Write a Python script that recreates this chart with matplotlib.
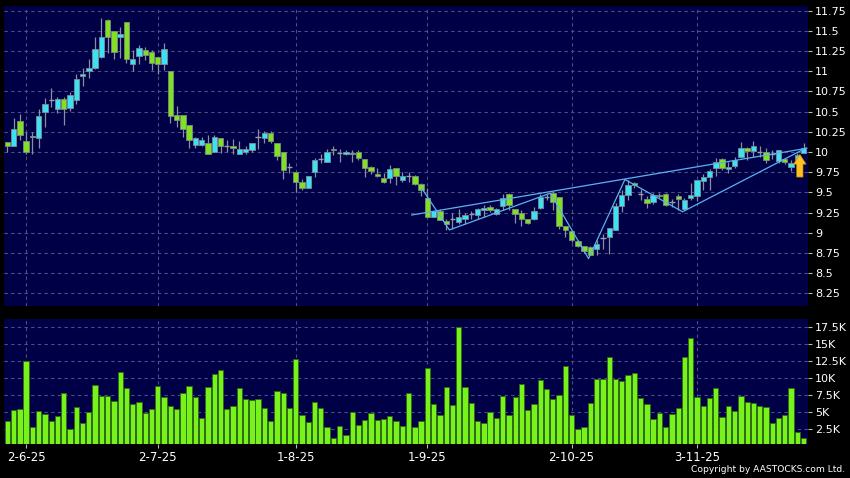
import matplotlib
matplotlib.use('Agg')
import matplotlib.pyplot as plt
import numpy as np

# daily OHLC (trading-day index 0..127)
opens = [10.12, 10.08, 10.38, 10.14, 10.19, 10.17, 10.50, 10.64, 10.53, 10.66,
         10.54, 10.64, 10.94, 11.00, 11.04, 11.18, 11.64, 11.50, 11.42, 11.61,
         11.09, 11.19, 11.26, 11.24, 11.18, 11.09, 11.00, 10.46, 10.46, 10.34,
         10.09, 10.09, 10.11, 10.00, 10.17, 10.07, 10.08, 9.98, 9.995, 10.02,
         10.18, 10.17, 10.24, 10.11, 10.00, 9.82, 9.75, 9.63, 9.56, 9.75,
         9.91, 9.88, 10.04, 9.99, 9.975, 9.97, 10.00, 9.91, 9.81, 9.73,
         9.68, 9.68, 9.80, 9.65, 9.70, 9.70, 9.60, 9.435, 9.20, 9.27,
         9.145, 9.17, 9.13, 9.175, 9.23, 9.22, 9.28, 9.32, 9.23, 9.33,
         9.48, 9.30, 9.24, 9.175, 9.175, 9.31, 9.445, 9.49, 9.44, 9.08,
         9.02, 8.90, 8.835, 8.82, 8.80, 8.935, 8.95, 9.035, 9.33, 9.47,
         9.62, 9.48, 9.42, 9.385, 9.47, 9.48, 9.38, 9.45, 9.29, 9.43,
         9.45, 9.645, 9.685, 9.80, 9.91, 9.79, 9.83, 9.935, 10.055, 10.015,
         10.005, 10.005, 9.98, 9.89, 9.91, 9.81, 9.90, 9.99]
highs = [10.13, 10.42, 10.47, 10.25, 10.25, 10.53, 10.665, 10.79, 10.68, 10.68,
         10.74, 10.97, 11.04, 11.15, 11.42, 11.655, 11.645, 11.50, 11.55, 11.61,
         11.26, 11.32, 11.30, 11.26, 11.18, 11.35, 11.00, 10.57, 10.46, 10.34,
         10.19, 10.19, 10.21, 10.21, 10.17, 10.15, 10.16, 10.14, 10.08, 10.11,
         10.28, 10.26, 10.26, 10.11, 10.00, 9.86, 9.75, 9.66, 9.70, 9.92,
         9.98, 10.04, 10.07, 10.04, 10.02, 10.03, 10.03, 9.91, 9.83, 9.80,
         9.74, 9.84, 9.80, 9.75, 9.75, 9.71, 9.61, 9.55, 9.27, 9.29,
         9.17, 9.24, 9.29, 9.24, 9.27, 9.31, 9.34, 9.34, 9.31, 9.48,
         9.49, 9.30, 9.28, 9.175, 9.32, 9.48, 9.485, 9.52, 9.44, 9.08,
         9.02, 8.915, 8.835, 8.83, 8.91, 8.99, 9.06, 9.365, 9.53, 9.65,
         9.63, 9.54, 9.45, 9.49, 9.49, 9.49, 9.42, 9.48, 9.43, 9.61,
         9.655, 9.73, 9.79, 9.92, 9.92, 9.88, 9.935, 10.12, 10.06, 10.14,
         10.07, 10.055, 10.02, 10.03, 9.92, 9.90, 9.985, 10.11]
lows = [10.00, 10.07, 10.15, 9.97, 9.97, 10.05, 10.31, 10.56, 10.48, 10.34,
        10.51, 10.60, 10.82, 10.92, 11.03, 11.17, 11.22, 11.15, 11.16, 11.10,
        11.00, 11.09, 11.14, 11.02, 10.97, 11.02, 10.36, 10.31, 10.18, 10.05,
        10.05, 10.07, 9.97, 10.00, 9.99, 10.00, 9.97, 9.98, 9.98, 10.00,
        10.04, 10.11, 10.11, 9.90, 9.67, 9.74, 9.51, 9.53, 9.55, 9.69,
        9.86, 9.88, 9.96, 9.88, 9.96, 9.88, 9.90, 9.69, 9.73, 9.69,
        9.62, 9.62, 9.59, 9.63, 9.63, 9.59, 9.46, 9.19, 9.19, 9.155,
        9.03, 9.05, 9.11, 9.11, 9.175, 9.165, 9.20, 9.26, 9.22, 9.28,
        9.28, 9.12, 9.08, 9.105, 9.16, 9.30, 9.40, 9.28, 9.05, 8.95,
        8.89, 8.825, 8.75, 8.72, 8.72, 8.80, 8.74, 9.035, 9.26, 9.40,
        9.56, 9.41, 9.31, 9.36, 9.43, 9.33, 9.32, 9.28, 9.28, 9.41,
        9.39, 9.53, 9.53, 9.70, 9.78, 9.745, 9.80, 9.92, 9.90, 9.94,
        9.94, 9.86, 9.91, 9.865, 9.855, 9.76, 9.88, 9.99]
closes = [10.08, 10.28, 10.21, 9.995, 10.20, 10.44, 10.60, 10.64, 10.66, 10.53,
          10.70, 10.90, 10.96, 11.04, 11.28, 11.42, 11.42, 11.24, 11.46, 11.15,
          11.15, 11.29, 11.20, 11.10, 11.09, 11.28, 10.44, 10.40, 10.28, 10.15,
          10.17, 10.15, 9.98, 10.18, 10.07, 10.07, 10.05, 10.04, 10.04, 10.11,
          10.18, 10.24, 10.14, 9.95, 9.78, 9.82, 9.63, 9.56, 9.70, 9.90,
          9.91, 9.995, 10.02, 9.99, 10.00, 9.99, 9.93, 9.80, 9.76, 9.70,
          9.63, 9.79, 9.70, 9.70, 9.70, 9.60, 9.53, 9.20, 9.27, 9.16,
          9.11, 9.17, 9.20, 9.22, 9.23, 9.30, 9.31, 9.28, 9.30, 9.435,
          9.34, 9.23, 9.175, 9.12, 9.27, 9.44, 9.445, 9.38, 9.08, 9.03,
          8.91, 8.835, 8.78, 8.73, 8.865, 8.935, 9.06, 9.33, 9.47, 9.59,
          9.59, 9.48, 9.37, 9.47, 9.45, 9.345, 9.38, 9.415, 9.405, 9.47,
          9.655, 9.685, 9.77, 9.88, 9.80, 9.82, 9.90, 10.055, 10.015, 10.07,
          10.005, 9.90, 9.98, 10.025, 9.875, 9.86, 9.965, 10.045]

# volume in thousands of shares
volume_k = [3.73, 5.25, 5.5, 12.59, 2.84, 5.16, 4.76, 3.68, 4.42, 7.82,
            2.45, 5.7, 3.43, 5.0, 9.0, 7.32, 7.32, 6.58, 10.92, 8.55,
            6.19, 6.44, 4.86, 5.5, 8.8, 7.22, 5.9, 5.45, 7.87, 8.8,
            7.18, 4.12, 8.7, 10.62, 11.16, 5.45, 5.85, 8.5, 6.98, 6.78,
            6.93, 5.6, 3.68, 8.1, 7.82, 5.6, 12.79, 4.52, 3.58, 6.54,
            5.6, 2.8, 1.22, 2.99, 1.57, 4.96, 3.09, 3.83, 4.81, 3.88,
            4.03, 4.42, 3.63, 2.94, 7.87, 2.75, 3.73, 11.5, 6.19, 4.57,
            8.65, 6.0, 17.54, 8.65, 6.39, 3.73, 3.43, 5.06, 4.12, 7.37,
            4.61, 7.18, 9.15, 5.25, 6.14, 9.74, 8.4, 6.93, 7.57, 11.85,
            4.61, 2.55, 2.8, 6.29, 9.83, 9.88, 13.13, 9.88, 9.54, 10.47,
            10.72, 7.03, 6.14, 3.98, 4.91, 2.8, 4.76, 5.6, 13.08, 15.88,
            7.18, 5.85, 7.08, 8.5, 4.32, 5.85, 5.16, 7.32, 6.54, 6.34,
            5.95, 5.7, 3.34, 4.17, 4.52, 8.5, 2.06, 1.17]

date_idx = [3, 24, 46, 67, 90, 110]
date_labels = ['2-6-25', '2-7-25', '1-8-25', '1-9-25', '2-10-25', '3-11-25']

price_ticks = [8.25, 8.5, 8.75, 9, 9.25, 9.5, 9.75, 10, 10.25, 10.5, 10.75, 11, 11.25, 11.5, 11.75]
vol_ticks_k = [2.5, 5, 7.5, 10, 12.5, 15, 17.5]
vol_labels = ['2.5K', '5K', '7.5K', '10K', '12.5K', '15K', '17.5K']

# drawn trend lines (index, price)
channel_x = [64.5, 127.5]
channel_y = [9.22, 10.046]
zigzag_x = [66.1, 70.5, 86.6, 92.7, 98.5, 107.7, 127.4]
zigzag_y = [9.55, 9.035, 9.49, 8.68, 9.66, 9.26, 10.05]

BG = '#000046'
GRID = '#4E4E86'
UP = '#3CE2F2'
DOWN = '#82E024'

o = np.array(opens); h = np.array(highs); l = np.array(lows); c = np.array(closes)
x = np.arange(len(o))

fig = plt.figure(figsize=(8.5, 4.78), dpi=100, facecolor='black')
ax = fig.add_axes([4/850, 1-306/478, 804/850, 300/478])
axv = fig.add_axes([4/850, 1-443.7/478, 804/850, 124.7/478], sharex=ax)

for a in (ax, axv):
    a.set_facecolor(BG)
    for s in a.spines.values():
        s.set_visible(False)
    a.grid(True, color=GRID, linestyle=(0, (3, 3)), linewidth=0.8)
    a.set_axisbelow(True)
    a.yaxis.tick_right()
    a.tick_params(axis='y', colors='#BBBBBB', labelcolor='white', labelsize=8,
                  length=3, pad=2)

# candles
ax.vlines(x, l, h, color='#8A8FA0', linewidth=0.9, zorder=2)
up = c > o
dn = c < o
eq = c == o
ax.bar(x[up], (c - o)[up], bottom=o[up], width=0.86, color=UP,
       edgecolor='#7C8C96', linewidth=0.6, zorder=3)
ax.bar(x[dn], (o - c)[dn], bottom=c[dn], width=0.86, color=DOWN,
       edgecolor='#7C8C7C', linewidth=0.6, zorder=3)
ax.hlines(c[eq], x[eq] - 0.42, x[eq] + 0.42, color='#9A9FB0', linewidth=1.0, zorder=3)

ax.plot(channel_x, channel_y, color='#5AB2EE', linewidth=0.9, zorder=4)
ax.plot(zigzag_x, zigzag_y, color='#5AB2EE', linewidth=0.9, zorder=4)

ax.annotate('', xy=(126.4, 9.97), xytext=(126.4, 9.69),
            arrowprops=dict(arrowstyle='simple,head_length=0.7,head_width=0.9,tail_width=0.45',
                            mutation_scale=10, fc='#FFC21E', ec='#C88A00', lw=0.5,
                            shrinkA=0, shrinkB=0), zorder=5)

ax.set_ylim(8.093, 11.808)
ax.set_yticks(price_ticks)
ax.set_yticklabels(['%g' % t for t in price_ticks])
ax.set_xlim(-0.53, 127.7)
ax.tick_params(axis='x', which='both', bottom=False, labelbottom=False)

# volume
v = np.array(volume_k) * 1000
axv.bar(x, v, width=0.85, color='#77F21A', edgecolor='#2F6A10', linewidth=0.6, zorder=3)
axv.set_ylim(330, 18740)
axv.set_yticks([t * 1000 for t in vol_ticks_k])
axv.set_yticklabels(vol_labels)
axv.set_xticks(date_idx)
axv.set_xticklabels(date_labels)
axv.tick_params(axis='x', colors='#BBBBBB', labelcolor='white', labelsize=8.5,
                length=3, pad=2)

fig.text(0.994, 0.008, 'Copyright by AASTOCKS.com Ltd.', color='white',
         fontsize=6.6, ha='right', va='bottom')

fig.savefig('out.png', dpi=100, facecolor='black')
